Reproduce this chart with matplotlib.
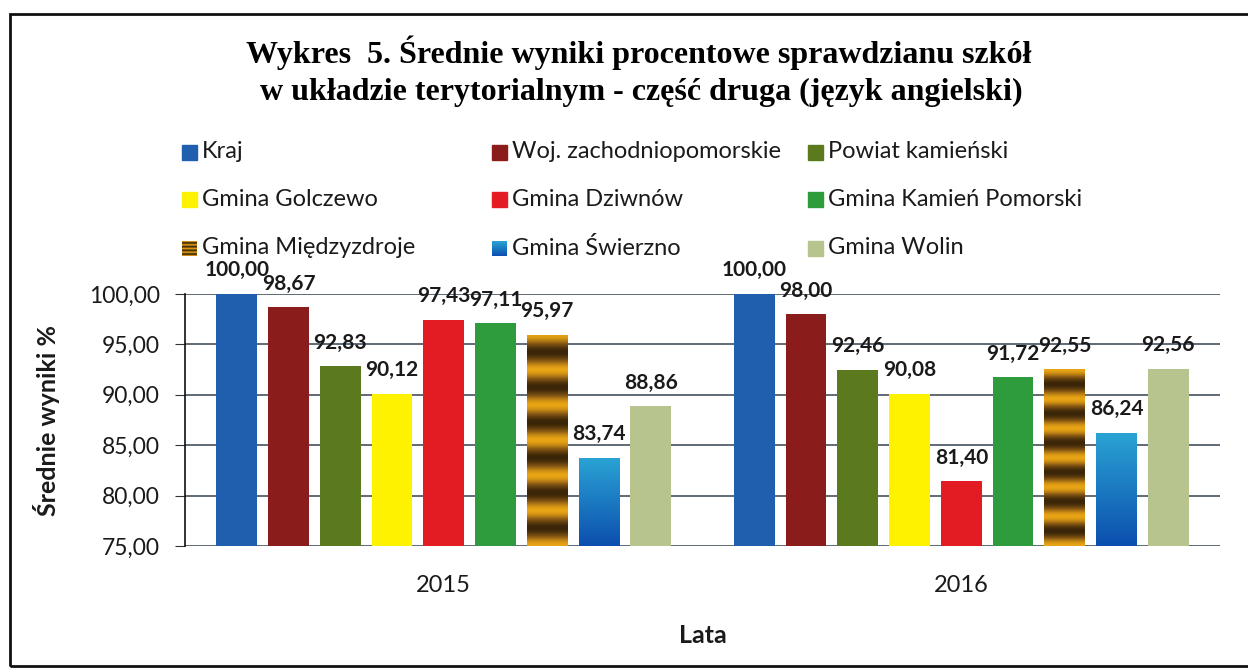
import numpy as np
import matplotlib.pyplot as plt
from matplotlib.colors import LinearSegmentedColormap
from matplotlib.patches import Rectangle

# dane
lata = ['2015', '2016']
jednostki = ['Kraj', 'Woj. zachodniopomorskie', 'Powiat kamieński',
             'Gmina Golczewo', 'Gmina Dziwnów', 'Gmina Kamień Pomorski',
             'Gmina Międzyzdroje', 'Gmina Świerzno', 'Gmina Wolin']
wyniki_2015 = [100.00, 98.67, 92.83, 90.12, 97.43, 97.11, 95.97, 83.74, 88.86]
wyniki_2016 = [100.00, 98.00, 92.46, 90.08, 81.40, 91.72, 92.55, 86.24, 92.56]
kolory = ['#1f5fae', '#8b1c1c', '#5b7a1e', '#fff200', '#e31b23',
          '#2e9b3c', '#b07a18', '#1a7cc8', '#b8c48e']

plt.rcParams['font.family'] = ['Lato', 'DejaVu Sans']

# tekstury dla dwoch slupkow (paski i gradient)
paski = LinearSegmentedColormap.from_list('paski', ['#3a2508', '#8a5a14', '#e8a414'])
niebieski = LinearSegmentedColormap.from_list('niebieski', ['#0c4fae', '#2aa4d4'])


def tekstura(idx, n=200, okresy=6):
    t = np.linspace(0, 1, n)
    if idx == 6:
        return (0.5 + 0.5 * np.cos(2 * np.pi * t * okresy))[:, None], paski
    return t[:, None], niebieski


fig = plt.figure(figsize=(12.48, 6.69), dpi=100)
ax = fig.add_axes([185 / 1248, 1 - 546 / 669, 1035 / 1248, 252 / 669])

wyniki = [wyniki_2015, wyniki_2016]
x = np.arange(len(lata))
krok = 0.1
szer = 0.079
for j, nazwa in enumerate(jednostki):
    vals = [w[j] for w in wyniki]
    pos = x + (j - 4) * krok
    bars = ax.bar(pos, [v - 75 for v in vals], szer, bottom=75, color=kolory[j],
                  edgecolor='none', zorder=3, label=nazwa)
    for b, v in zip(bars, vals):
        if j in (6, 7):
            g, cm = tekstura(j)
            im = ax.imshow(g, cmap=cm, aspect='auto', origin='lower',
                           extent=[b.get_x(), b.get_x() + b.get_width(), 75, v], zorder=4)
            im.set_clip_path(b)
        ax.annotate(f'{v:.2f}'.replace('.', ','), (b.get_x() + b.get_width() / 2, v),
                    xytext=(0, 17), textcoords='offset points', ha='center', va='center',
                    fontsize=15, fontweight='bold', color='#1a1a1a', zorder=5)

ax.set_xlim(-0.5, 1.5)
ax.set_ylim(75, 100)
ticks = np.arange(75, 101, 5)
ax.set_yticks(ticks)
ax.set_yticklabels([f'{t:.2f}'.replace('.', ',') for t in ticks])
ax.set_xticks(x)
ax.set_xticklabels(lata)
ax.tick_params(axis='x', length=0, pad=21, labelsize=17, labelcolor='#1a1a1a')
ax.tick_params(axis='y', length=7, pad=11, labelsize=16.5, color='#333333', labelcolor='#1a1a1a')
ax.grid(axis='y', color='#45525f', lw=1.2)
ax.set_axisbelow(True)
for s in ['top', 'right', 'bottom']:
    ax.spines[s].set_visible(False)
ax.spines['left'].set_color('#111111')
ax.spines['left'].set_linewidth(1.2)
ax.set_ylabel('Średnie wyniki %', fontsize=18, fontweight='bold', color='#1a1a1a')
ax.yaxis.set_label_coords(-0.121, 0.5)
ax.set_xlabel('Lata', fontsize=18, fontweight='bold', color='#1a1a1a')
ax.xaxis.set_label_coords(0.5, -0.31)

# tytul
fig.text(0.512, 1 - 53 / 669, 'Wykres  5. Średnie wyniki procentowe sprawdzianu szkół',
         family='Liberation Serif', fontweight='bold', fontsize=23, ha='center', va='center')
fig.text(0.514, 1 - 92 / 669, 'w układzie terytorialnym - część druga (język angielski)',
         family='Liberation Serif', fontweight='bold', fontsize=23, ha='center', va='center')

# legenda ukladana recznie w trzech kolumnach
kol_x = [182, 492, 808]
wier_y = [152, 199, 248]
for j, nazwa in enumerate(jednostki):
    px = kol_x[j % 3]
    py = wier_y[j // 3]
    box = [px / 1248, 1 - (py + 8) / 669, 15 / 1248, 15 / 669]
    if j in (6, 7):
        lax = fig.add_axes(box)
        g, cm = tekstura(j, 60, 4)
        lax.imshow(g, cmap=cm, aspect='auto', origin='lower')
        lax.axis('off')
    else:
        fig.patches.append(Rectangle(box[:2], box[2], box[3], transform=fig.transFigure,
                                     color=kolory[j]))
    fig.text((px + 20) / 1248, 1 - py / 669, nazwa, fontsize=17, va='center', ha='left',
             color='#1a1a1a')

# ramka wokol wykresu
fig.patches.append(Rectangle((10 / 1248, 3 / 669), 1.1, 1 - 17 / 669, transform=fig.transFigure,
                             fill=False, edgecolor='#111111', lw=2))

fig.savefig('out.png', dpi=100, facecolor='white')
